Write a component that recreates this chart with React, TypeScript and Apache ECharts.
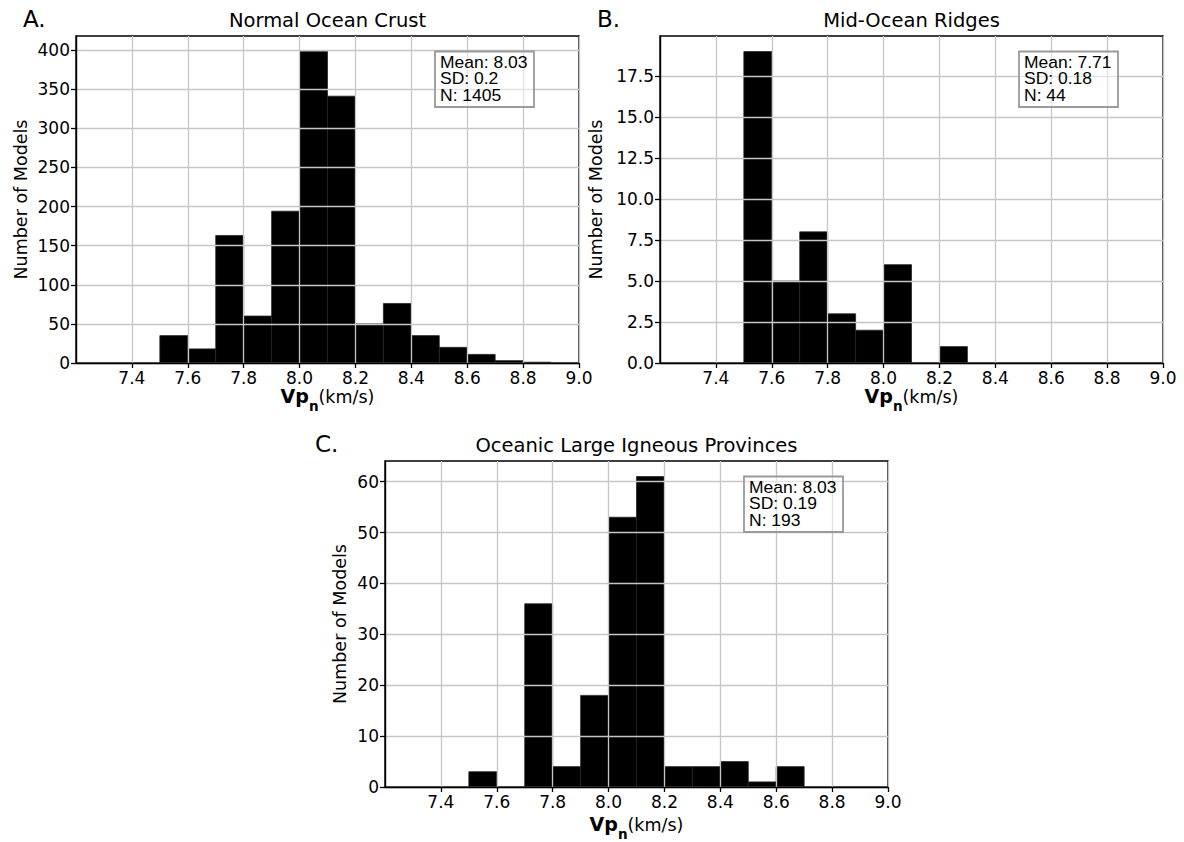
import React, { useEffect, useRef } from 'react';
import * as echarts from 'echarts';

// ---------------- data ----------------
const binEdges = [7.5, 7.6, 7.7, 7.8, 7.9, 8.0, 8.1, 8.2, 8.3, 8.4, 8.5, 8.6, 8.7, 8.8, 8.9];
const countsA = [35, 18, 163, 60, 194, 398, 341, 50, 76, 35, 20, 11, 3, 1];
const countsB = [19, 5, 8, 3, 2, 6, 0, 1, 0, 0, 0, 0, 0, 0];
const countsC = [3, 0, 36, 4, 18, 53, 61, 4, 4, 5, 1, 4, 0, 0];

const titles = ['Normal Ocean Crust', 'Mid-Ocean Ridges', 'Oceanic Large Igneous Provinces'];
const letters = ['A.', 'B.', 'C.'];
const statsA = ['Mean: 8.03', 'SD: 0.2', 'N: 1405'];
const statsB = ['Mean: 7.71', 'SD: 0.18', 'N: 44'];
const statsC = ['Mean: 8.03', 'SD: 0.19', 'N: 193'];

const xTicks = [7.4, 7.6, 7.8, 8.0, 8.2, 8.4, 8.6, 8.8, 9.0];
const yTicksA = [0, 50, 100, 150, 200, 250, 300, 350, 400];
const yTicksB = [0, 2.5, 5.0, 7.5, 10.0, 12.5, 15.0, 17.5];
const yTicksC = [0, 10, 20, 30, 40, 50, 60];

const xMin = 7.2;
const xMax = 9.0;
const yMaxA = 417.9;
const yMaxB = 19.95;
const yMaxC = 64.05;

const yLabel = 'Number of Models';

// ---------------- layout ----------------
const layout = [
  { left: 76, top: 36, width: 503, height: 327, letterX: 23, letterY: 18.6, yNameX: 21, xNameBase: 40 },
  { left: 660, top: 36, width: 503, height: 327, letterX: 597, letterY: 18.6, yNameX: 596, xNameBase: 40 },
  { left: 385, top: 461, width: 503, height: 326, letterX: 315, letterY: 443.6, yNameX: 340, xNameBase: 43.5 },
];

const panels = [
  { counts: countsA, yTicks: yTicksA, yMax: yMaxA, yStep: 50, dec: 0, stats: statsA },
  { counts: countsB, yTicks: yTicksB, yMax: yMaxB, yStep: 2.5, dec: 1, stats: statsB },
  { counts: countsC, yTicks: yTicksC, yMax: yMaxC, yStep: 10, dec: 0, stats: statsC },
];

const SPINE = '#000';
const GRIDC = '#c6c6c6';

function measure(text: string, font: string): number {
  const c = document.createElement('canvas').getContext('2d');
  if (!c) return text.length * 9;
  c.font = font;
  return c.measureText(text).width;
}

export default function App() {
  const ref = useRef<HTMLDivElement>(null);

  useEffect(() => {
    document.body.style.margin = '0';
    if (!ref.current) return;
    const chart = echarts.init(ref.current, undefined, { renderer: 'svg' });

    const grids = layout.map((l) => ({
      left: l.left,
      top: l.top,
      width: l.width,
      height: l.height,
      show: true,
      borderColor: SPINE,
      borderWidth: 1.4,
      backgroundColor: 'transparent',
      z: 4,
    }));

    const xAxes = layout.map((_, i) => ({
      type: 'value',
      gridIndex: i,
      min: xMin,
      max: xMax,
      interval: 0.2,
      z: 5,
      axisLine: { show: true, onZero: false, lineStyle: { color: SPINE, width: 1.4 } },
      axisTick: { show: true, length: 5, customValues: xTicks, lineStyle: { color: SPINE, width: 1.3 } },
      axisLabel: {
        customValues: xTicks,
        fontFamily: 'DejaVu Sans',
        fontSize: 17,
        color: '#000',
        margin: 6,
        formatter: (v: number) => v.toFixed(1),
      },
      splitLine: { show: true, lineStyle: { color: GRIDC, width: 1.3 } },
    }));

    const yAxes = panels.map((p, i) => ({
      type: 'value',
      gridIndex: i,
      min: 0,
      max: p.yMax,
      interval: p.yStep,
      z: 5,
      axisLine: { show: true, onZero: false, lineStyle: { color: SPINE, width: 1.4 } },
      axisTick: { show: true, length: 5, customValues: p.yTicks, lineStyle: { color: SPINE, width: 1.3 } },
      axisLabel: {
        customValues: p.yTicks,
        fontFamily: 'DejaVu Sans',
        fontSize: 17,
        color: '#000',
        margin: 6,
        formatter: (v: number) => v.toFixed(p.dec),
      },
      splitLine: { show: true, lineStyle: { color: GRIDC, width: 1.3 } },
    }));

    const series = panels.map((p, i) => ({
      type: 'custom',
      xAxisIndex: i,
      yAxisIndex: i,
      z: -1,
      encode: { x: [0, 1], y: 2 },
      data: p.counts.map((c, k) => [binEdges[k], binEdges[k + 1], c]),
      renderItem: (params: any, api: any) => {
        const x0 = api.value(0);
        const x1 = api.value(1);
        const y = api.value(2);
        if (!y) return null;
        const p0 = api.coord([x0, y]);
        const p1 = api.coord([x1, 0]);
        return {
          type: 'rect',
          shape: { x: p0[0], y: p0[1], width: p1[0] - p0[0], height: p1[1] - p0[1] },
          style: { fill: '#000', stroke: '#262626', lineWidth: 0.8 },
        };
      },
    }));

    const graphics: any[] = [];
    const fVp = 'bold 19px "DejaVu Sans"';
    const fSub = 'bold 13.5px "DejaVu Sans"';
    const fUnit = '17.5px "DejaVu Sans"';
    const wVp = measure('Vp', fVp);
    const wSub = measure('n', fSub);
    const wUnit = measure('(km/s)', fUnit);
    const total = wVp + wSub + wUnit;

    layout.forEach((l, i) => {
      const cx = l.left + l.width / 2;
      const cy = l.top + l.height / 2;
      graphics.push({
        type: 'text',
        x: cx,
        y: l.top - 16,
        style: { text: titles[i], fontFamily: 'DejaVu Sans', fontSize: 19.5, fill: '#000', align: 'center', verticalAlign: 'middle' },
      });
      graphics.push({
        type: 'text',
        x: l.letterX,
        y: l.letterY,
        style: { text: letters[i], fontFamily: 'DejaVu Sans', fontSize: 23, fill: '#000', align: 'left', verticalAlign: 'middle' },
      });
      graphics.push({
        type: 'text',
        x: l.yNameX,
        y: cy,
        rotation: Math.PI / 2,
        style: { text: yLabel, fontFamily: 'DejaVu Sans', fontSize: 17.5, fill: '#000', align: 'center', verticalAlign: 'middle' },
      });
      const base = l.top + l.height + l.xNameBase;
      const sx = cx - total / 2;
      graphics.push({
        type: 'text',
        x: sx,
        y: base - 6.6,
        style: { text: 'Vp', fontFamily: 'DejaVu Sans', fontWeight: 'bold', fontSize: 19, fill: '#000', align: 'left', verticalAlign: 'middle' },
      });
      graphics.push({
        type: 'text',
        x: sx + wVp,
        y: base + 3,
        style: { text: 'n', fontFamily: 'DejaVu Sans', fontWeight: 'bold', fontSize: 13.5, fill: '#000', align: 'left', verticalAlign: 'middle' },
      });
      graphics.push({
        type: 'text',
        x: sx + wVp + wSub,
        y: base - 6,
        style: { text: '(km/s)', fontFamily: 'DejaVu Sans', fontSize: 17.5, fill: '#000', align: 'left', verticalAlign: 'middle' },
      });
      const bx = l.left + l.width - 45 - 99;
      const by = l.top + 15.5;
      graphics.push({
        type: 'rect',
        shape: { x: bx, y: by, width: 99, height: 55.5 },
        style: { fill: 'rgba(255,255,255,0.5)', stroke: '#9a9a9a', lineWidth: 1.8 },
        z: 10,
      });
      panels[i].stats.forEach((s, k) => {
        graphics.push({
          type: 'text',
          x: bx + 5,
          y: by + 11.5 + k * 16.2,
          scaleX: 1.08,
          z: 11,
          style: {
            text: s,
            fontFamily: 'Liberation Sans',
            fontSize: 16.2,
            fill: '#000',
            align: 'left',
            verticalAlign: 'middle',
          },
        });
      });
    });

    chart.setOption({
      animation: false,
      backgroundColor: '#fff',
      grid: grids,
      xAxis: xAxes,
      yAxis: yAxes,
      series,
      graphic: { elements: graphics },
    });

    return () => chart.dispose();
  }, []);

  return <div ref={ref} style={{ width: 1184, height: 842 }} />;
}
